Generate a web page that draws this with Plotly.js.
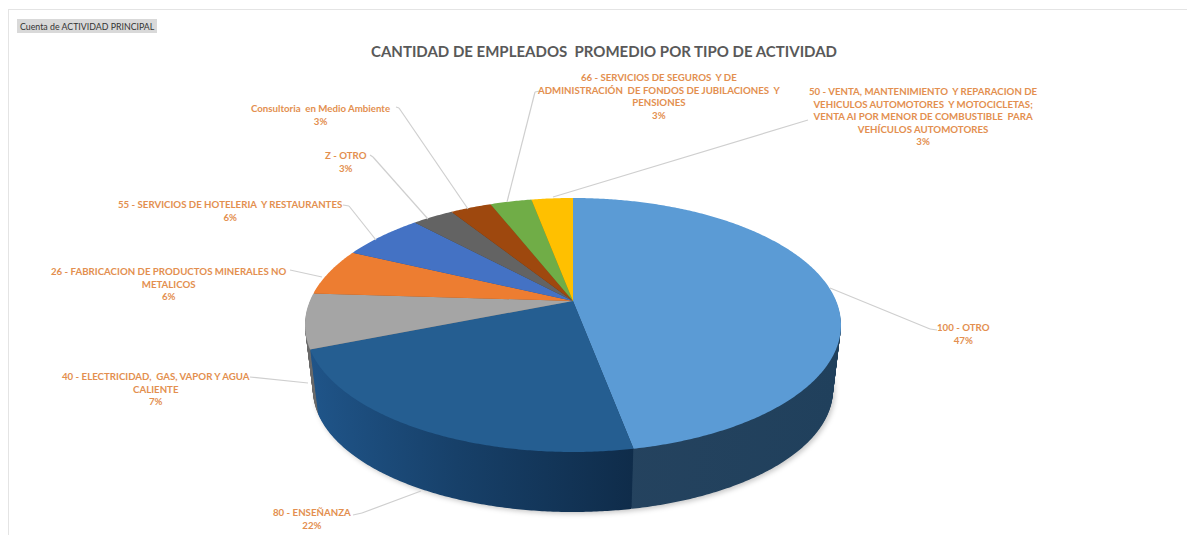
<!DOCTYPE html>
<html><head><meta charset="utf-8">
<script src="https://cdn.plot.ly/plotly-3.0.1.min.js"></script>
<style>html,body{margin:0;padding:0;background:#fff}#chart{width:1187px;height:535px}</style>
</head><body><div id="chart"></div>
<script>
// ---- data ----
const categories = [
  "100 - OTRO",
  "80 - ENSEÑANZA",
  "40 - ELECTRICIDAD,  GAS, VAPOR Y AGUA CALIENTE",
  "26 - FABRICACION DE PRODUCTOS MINERALES NO METALICOS",
  "55 - SERVICIOS DE HOTELERIA  Y RESTAURANTES",
  "Z - OTRO",
  "Consultoria  en Medio Ambiente",
  "66 - SERVICIOS DE SEGUROS  Y DE ADMINISTRACIÓN  DE FONDOS DE JUBILACIONES  Y PENSIONES",
  "50 - VENTA, MANTENIMIENTO  Y REPARACION DE VEHICULOS AUTOMOTORES  Y MOTOCICLETAS; VENTA AI POR MENOR DE COMBUSTIBLE  PARA VEHÍCULOS AUTOMOTORES"
];
const values = [47, 22, 7, 6, 6, 3, 3, 3, 3];
const percentLabels = ["47%","22%","7%","6%","6%","3%","3%","3%","3%"];
const labelLines = [
  ["100 - OTRO"],
  ["80 - ENSEÑANZA"],
  ["40 - ELECTRICIDAD,  GAS, VAPOR Y AGUA","CALIENTE"],
  ["26 - FABRICACION DE PRODUCTOS MINERALES NO","METALICOS"],
  ["55 - SERVICIOS DE HOTELERIA  Y RESTAURANTES"],
  ["Z - OTRO"],
  ["Consultoria  en Medio Ambiente"],
  ["66 - SERVICIOS DE SEGUROS  Y DE","ADMINISTRACIÓN  DE FONDOS DE JUBILACIONES  Y","PENSIONES"],
  ["50 - VENTA, MANTENIMIENTO  Y REPARACION DE","VEHICULOS AUTOMOTORES  Y MOTOCICLETAS;","VENTA AI POR MENOR DE COMBUSTIBLE  PARA","VEHÍCULOS AUTOMOTORES"]
];
const chartTitle = "CANTIDAD DE EMPLEADOS  PROMEDIO POR TIPO DE ACTIVIDAD";
const fieldButton = "Cuenta de ACTIVIDAD PRINCIPAL";

// ---- styles and layout ----
const topColors  = ["#5b9bd5","#255e91","#a5a5a5","#ed7d31","#4472c4","#636363","#9e480e","#70ad47","#ffc000"];
const wallColors = ["#25425d","#17406a","#6b6b6b","#9a5120","#2c4a80","#404040","#672f09","#49702e","#a67c00"];
const wallGradients = {0:[["0%","#33506e"],["12%","#25435f"],["100%","#20405c"]],
                       1:[["0%","#1f5488"],["45%","#174069"],["100%","#0f2c4a"]]};
const labelAnchor = [[963,333],[312,518],[156,388],[169,283],[230,210],[346,161],[320,114],[658,95.5],[923,116.5]];
const leaderLines = [
  [[937,330],[930,329],[830,288]],
  [[353,515],[362,513],[421,491]],
  [[250,377],[308,383]],
  [[290,270],[322,277]],
  [[343,205],[349,206],[376,240]],
  [[370,155],[373,157],[428,219]],
  [[396,107],[399,108],[468,209]],
  [[540,91],[535,92],[507,202]],
  [[808,120],[553,197]]
];
const W = 1187, H = 535;
// tilted disc: outline of the top face and of the bottom face
const apex = {x:573, y:301};
const topFace = {cy:325, a:268, b:127};
const bottomFace = {cy:390, a:260, b:122};
const wallSteps = 65;
const px = x => x / W, py = y => 1 - y / H;

function pieTrace(colors){
  return {type:"pie", labels:categories, values:values, sort:false, direction:"clockwise", rotation:0,
          textinfo:"none", hoverinfo:"skip", showlegend:false,
          marker:{colors:colors, line:{width:0}}};
}
const traces = [];
for (let k = wallSteps; k >= 1; k--) traces.push(pieTrace(wallColors));
traces.push(pieTrace(topColors));

const annotations = categories.map((c,i)=>({
  xref:"paper", yref:"paper", x:px(labelAnchor[i][0]), y:py(labelAnchor[i][1]),
  xanchor:"center", yanchor:"middle", showarrow:false, align:"center",
  text:labelLines[i].concat([percentLabels[i]]).join("<br>"),
  font:{family:"Lato, 'Open Sans', sans-serif", size:9.7, color:"#e38f4f", weight:700}
}));
annotations.push({xref:"paper",yref:"paper",x:px(604),y:py(51),xanchor:"center",yanchor:"middle",showarrow:false,
  text:"<b>"+chartTitle+"</b>", font:{family:"Lato, sans-serif", size:15, color:"#595959"}});
annotations.push({xref:"paper",yref:"paper",x:px(87),y:py(26),xanchor:"center",yanchor:"middle",showarrow:false,
  text:fieldButton, font:{family:"Lato, sans-serif", size:8.8, color:"#333333"}});

const shapes = [
  {type:"line",xref:"paper",yref:"paper",x0:px(8),x1:px(1187),y0:py(9.5),y1:py(9.5),line:{color:"#e4e4e4",width:1}},
  {type:"line",xref:"paper",yref:"paper",x0:px(8.5),x1:px(8.5),y0:py(9),y1:py(535),line:{color:"#e4e4e4",width:1}},
  {type:"rect",xref:"paper",yref:"paper",x0:px(17),x1:px(157),y0:py(19),y1:py(33),fillcolor:"#d9d9d9",line:{width:0},layer:"below"}
];
leaderLines.forEach(l=>{
  for(let i=0;i<l.length-1;i++) shapes.push({type:"line",xref:"paper",yref:"paper",
    x0:px(l[i][0]),y0:py(l[i][1]),x1:px(l[i+1][0]),y1:py(l[i+1][1]),line:{color:"#cfcfcf",width:1.2}});
});

const layout = {width:W,height:H,margin:{l:0,r:0,t:0,b:0},paper_bgcolor:"#fff",plot_bgcolor:"#fff",
  showlegend:false,annotations:annotations,shapes:shapes,hovermode:false};

const gd = document.getElementById("chart");
Plotly.newPlot(gd,traces,layout,{displayModeBar:false,staticPlot:true}).then(()=>{
  const NS = "http://www.w3.org/2000/svg";
  const svg = gd.querySelector(".main-svg");
  const defs = svg.querySelector("defs") || svg.insertBefore(document.createElementNS(NS,"defs"),svg.firstChild);
  Object.keys(wallGradients).forEach(i=>{
    const g = document.createElementNS(NS,"linearGradient");
    g.setAttribute("id","wallGrad"+i);g.setAttribute("x1","0");g.setAttribute("x2","1");g.setAttribute("y1","0");g.setAttribute("y2","0");
    wallGradients[i].forEach(s=>{const st=document.createElementNS(NS,"stop");st.setAttribute("offset",s[0]);st.setAttribute("stop-color",s[1]);g.appendChild(st);});
    defs.appendChild(g);
  });
  // perspective view of the library's computed pie slices
  const top = topFace.cy - topFace.b, bot = topFace.cy + topFace.b;
  const ratio = (apex.y - top) / (bot - apex.y);        // (1+c)/(1-c)
  const c = (ratio - 1) / (ratio + 1);
  const B = (apex.y - top) * (1 - c);
  const A = topFace.a * Math.sqrt(1 - c*c);
  const project = (u,v)=>{
    const d = 1 + c*v;
    return (apex.x + A*u/d).toFixed(2) + "," + (apex.y + B*v/d).toFixed(2);
  };
  const cd = gd.calcdata[0];
  const slicePaths = cd.map(pt=>{
    let a0 = Math.atan2(pt.px0[1],pt.px0[0]), a1 = Math.atan2(pt.px1[1],pt.px1[0]);
    while(a1 <= a0) a1 += 2*Math.PI;
    const n = Math.max(4,Math.ceil((a1-a0)/(Math.PI/360)));
    const pts = [project(0,0)];
    for(let i=0;i<=n;i++){ const t=a0+(a1-a0)*i/n; pts.push(project(Math.cos(t),Math.sin(t))); }
    return "M"+pts.join("L")+"Z";
  });
  const groups = gd.querySelectorAll(".pielayer .trace");
  groups.forEach((el,i)=>{
    el.querySelectorAll("path.surface").forEach((p,j)=>{
      p.setAttribute("d",slicePaths[j]);
      p.removeAttribute("transform");
      if(i<wallSteps && wallGradients[j]) p.style.fill=`url(#wallGrad${j})`;
    });
    if(i<wallSteps){
      const t = (wallSteps-i)/wallSteps;
      const sx = (topFace.a + (bottomFace.a-topFace.a)*t)/topFace.a;
      const sy = (topFace.b + (bottomFace.b-topFace.b)*t)/topFace.b;
      const yc = topFace.cy + (bottomFace.cy-topFace.cy)*t;
      el.setAttribute("transform",`translate(${apex.x},${yc}) scale(${sx},${sy}) translate(${-apex.x},${-topFace.cy})`);
      if(i===0) el.style.filter="drop-shadow(2px 2px 3px rgba(0,0,0,.22))";
    }
  });
});
</script></body></html>
